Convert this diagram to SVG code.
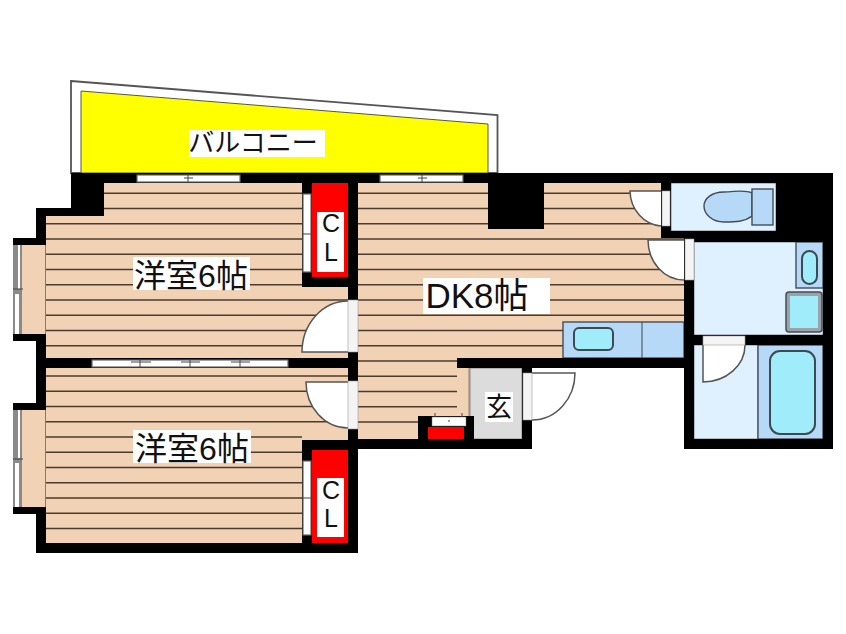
<svg xmlns="http://www.w3.org/2000/svg" width="846" height="634" viewBox="0 0 846 634">
<style>
.floor{fill:#f2d2b5}
.wall{fill:#000}
.st{stroke:#4a3b2c;stroke-width:1.4;fill:none}
.pale{fill:#dff0fe;stroke:#666;stroke-width:.8}
.blue{fill:#b5d9f7;stroke:#444c55;stroke-width:1.4}
.cyan{fill:#a0ecfb;stroke:#3d4a52;stroke-width:2}
.door{fill:#fff;stroke:#555;stroke-width:1.5}
.leaf{fill:#f4f4f4;stroke:#999;stroke-width:.6}
.win{fill:#fff;stroke:#666;stroke-width:1.2}
.gr{fill:#8a8a8a}
.wh{fill:#fff}
.tick{stroke:#444;stroke-width:1;fill:none}
.lab{fill:#fff}
.red{fill:#f00}
.t{font-family:"Liberation Sans","Noto Sans CJK JP",sans-serif;fill:#111;text-anchor:middle}
.l{font-family:"Liberation Sans",sans-serif;fill:#111;text-anchor:middle;font-size:25px}
</style>
<rect width="846" height="634" fill="#fff"/>
<g id="balcony">
<path d="M71 81L497.500 115V173H71Z" fill="#fff" stroke="#555" stroke-width="1.800"/>
<path d="M81 91L488 124V173H81Z" fill="#ff0" stroke="#555" stroke-width="1"/>
</g>
<g id="floors">
<path class="floor" d="M104 183H348V358H46V216H104Z"/>
<rect class="floor" x="22" y="245" width="24" height="90"/>
<path class="floor" d="M46 368H348V543H46Z"/>
<rect class="floor" x="22" y="410" width="24" height="97"/>
<path class="floor" d="M358 183H661V238H684V358H470V439H358Z"/>
<path d="M45.500 245V334M45.500 410V507M469 368V439" stroke="#8a7a6a" stroke-width="1" fill="none"/>
</g>
<g id="floor-lines">
<path class="st" d="M104 193.300H302M104 208.500H302M46 223.800H302M46 239H302M46 254.300H302M46 269.500H302M46 284.800H348M46 300H348M46 315.300H348M46 330.500H348M46 345.800H348"/>
<path class="st" d="M46 376H348M46 391.300H348M46 406.500H348M46 421.800H348M46 437H302M46 452.300H302M46 467.500H302M46 482.800H302M46 498H302M46 513.300H302M46 528.500H302"/>
<path class="st" d="M358 193.300H661M358 208.500H661M358 223.800H661M358 239H684M358 254.300H684M358 269.500H684M358 284.800H684M358 300H684M358 315.300H684M358 330.500H563M358 345.800H563M358 361H457M358 376.300H457M358 391.500H457M358 406.800H457M358 422H418"/>
</g>
<g id="wet-rooms">
<rect class="pale" x="671" y="183" width="105" height="48"/>
<rect class="pale" x="694" y="242" width="129" height="93"/>
<rect class="pale" x="694" y="345" width="64" height="94"/>
<rect class="blue" x="758" y="345" width="65" height="94"/>
<rect class="cyan" x="770" y="351" width="45" height="83" rx="10"/>
<rect class="blue" x="796" y="242" width="27" height="46"/>
<rect class="cyan" x="802" y="251" width="15" height="33" rx="7.500" stroke-width="2.500"/>
<rect x="786" y="292" width="36" height="40" rx="3" fill="#9aa3aa" stroke="#444c55" stroke-width="1.500"/>
<rect x="790" y="296" width="28" height="32" fill="#a0ecfb"/>
<g id="toilet">
<path class="blue" d="M752 193C744 189 735 192 724 192C711 192 704 199 704 206C704 214 712 222 724 222C736 222 744 222 752 216Z"/>
<rect class="blue" x="752" y="189" width="21" height="36"/>
</g>
</g>
<g id="kitchen">
<rect class="blue" x="563" y="322" width="121" height="36"/>
<path class="tick" d="M642 322V358"/>
<rect class="cyan" x="574" y="328" width="39" height="22" rx="5" stroke-width="1.800"/>
</g>
<g id="entry">
<rect x="470" y="368" width="52" height="71" fill="#dcdcdc" stroke="#777" stroke-width=".8"/>
</g>
<g id="walls">
<rect class="wall" x="71" y="173" width="762" height="10"/>
<path class="wall" d="M71 173H104V216H46V245H13V238H36V208H71Z"/>
<path class="wall" d="M13 334H46V410H13V403H36V341H13Z"/>
<path class="wall" d="M13 507H46V553H36V514H13Z"/>
<rect class="wall" x="36" y="358" width="312" height="10"/>
<rect class="wall" x="36" y="543" width="322" height="10"/>
<rect class="wall" x="348" y="183" width="10" height="370"/>
<path class="wall" d="M302 183H312V277H358V287H302Z"/>
<path class="wall" d="M302 440H358V450H312V543H302Z"/>
<rect class="wall" x="488" y="173" width="56" height="56"/>
<path class="wall" d="M661 183H671V231H776V183H833V449H684V238H661ZM694 242V335H823V242ZM694 345V439H823V345Z" fill-rule="evenodd"/>
<path class="wall" d="M457 358H684V368H532V449H358V439H522V368H457Z"/>
<path class="wall" d="M418 416H474V449H418Z"/>
</g>
<g id="closets">
<rect class="red" x="312" y="183" width="36" height="94"/>
<rect class="lab" x="317" y="212" width="27" height="60"/>
<rect class="red" x="312" y="450" width="36" height="93"/>
<rect class="lab" x="317" y="478" width="27" height="59"/>
<rect class="lab" x="432" y="417" width="34" height="9" stroke="#777" stroke-width=".5"/>
<rect class="red" x="428" y="427" width="36" height="12"/>
<path class="tick" d="M435 413V417M462 413V417M449 420V422"/>
</g>
<g id="doors">
<path class="door" d="M348 352H302A46 51 0 0 1 348 301"/>
<rect class="leaf" x="348" y="300" width="10" height="52"/>
<path class="door" d="M348 382H306A42 46 0 0 0 348 428"/>
<rect class="leaf" x="348" y="381" width="10" height="48"/>
<path class="door" d="M661 191H630A33 36 0 0 0 661 226"/>
<rect class="leaf" x="662" y="191" width="8" height="35"/>
<path class="door" d="M684 240H648A36 40 0 0 0 684 280"/>
<rect class="leaf" x="685" y="239" width="9" height="41"/>
<path class="door" d="M703 345V382A42 37 0 0 0 745 345"/>
<rect class="leaf" x="703" y="336" width="42" height="9"/>
<path class="door" d="M532 373H575A43 47 0 0 1 532 420"/>
<rect class="leaf" x="523" y="373" width="9" height="47"/>
</g>
<g id="windows">
<rect class="win" x="137" y="175" width="103" height="7"/>
<path class="tick" d="M188 174V183M184 178H193"/>
<rect class="win" x="380" y="175" width="83" height="7"/>
<path class="tick" d="M422 174V183M418 178H427"/>
<rect class="win" x="92" y="360" width="196" height="7"/>
<path class="tick" d="M140 359V368M131 362H151M190 359V368M181 362H200M240 359V368M231 362H250"/>
<rect class="gr" x="13" y="245" width="9" height="89"/>
<rect class="wh" x="18" y="245" width="2" height="44"/>
<rect class="wh" x="15" y="294" width="4" height="40"/>
<path class="tick" d="M13 289H23"/>
<rect class="gr" x="13" y="410" width="9" height="97"/>
<rect class="wh" x="18" y="410" width="2" height="48"/>
<rect class="wh" x="15" y="463" width="4" height="44"/>
<path class="tick" d="M13 459H23"/>
<rect class="win" x="303" y="194" width="8" height="78" fill="#e8e8e8"/>
<path class="tick" d="M302 234H312"/>
<rect class="win" x="303" y="461" width="8" height="74" fill="#e8e8e8"/>
<path class="tick" d="M302 498H312"/>
</g>
<g id="labels">
<rect class="lab" x="189" y="130" width="136" height="27"/>
<text class="t" x="253" y="152" font-size="26">バルコニー</text>
<rect class="lab" x="133" y="257" width="117" height="33"/>
<text class="t" x="191" y="287" font-size="32">洋室6帖</text>
<rect class="lab" x="133" y="430" width="118" height="33"/>
<text class="t" x="192" y="460" font-size="32">洋室6帖</text>
<rect class="lab" x="423" y="278" width="127" height="36"/>
<text class="t" x="477" y="308" font-size="35">DK8帖</text>
<rect class="lab" x="485" y="392" width="28" height="30"/>
<text class="t" x="499" y="416" font-size="26">玄</text>
<text class="l" x="331" y="232">C</text>
<text class="l" x="331" y="261">L</text>
<text class="l" x="331" y="499">C</text>
<text class="l" x="331" y="527">L</text>
</g>
</svg>
